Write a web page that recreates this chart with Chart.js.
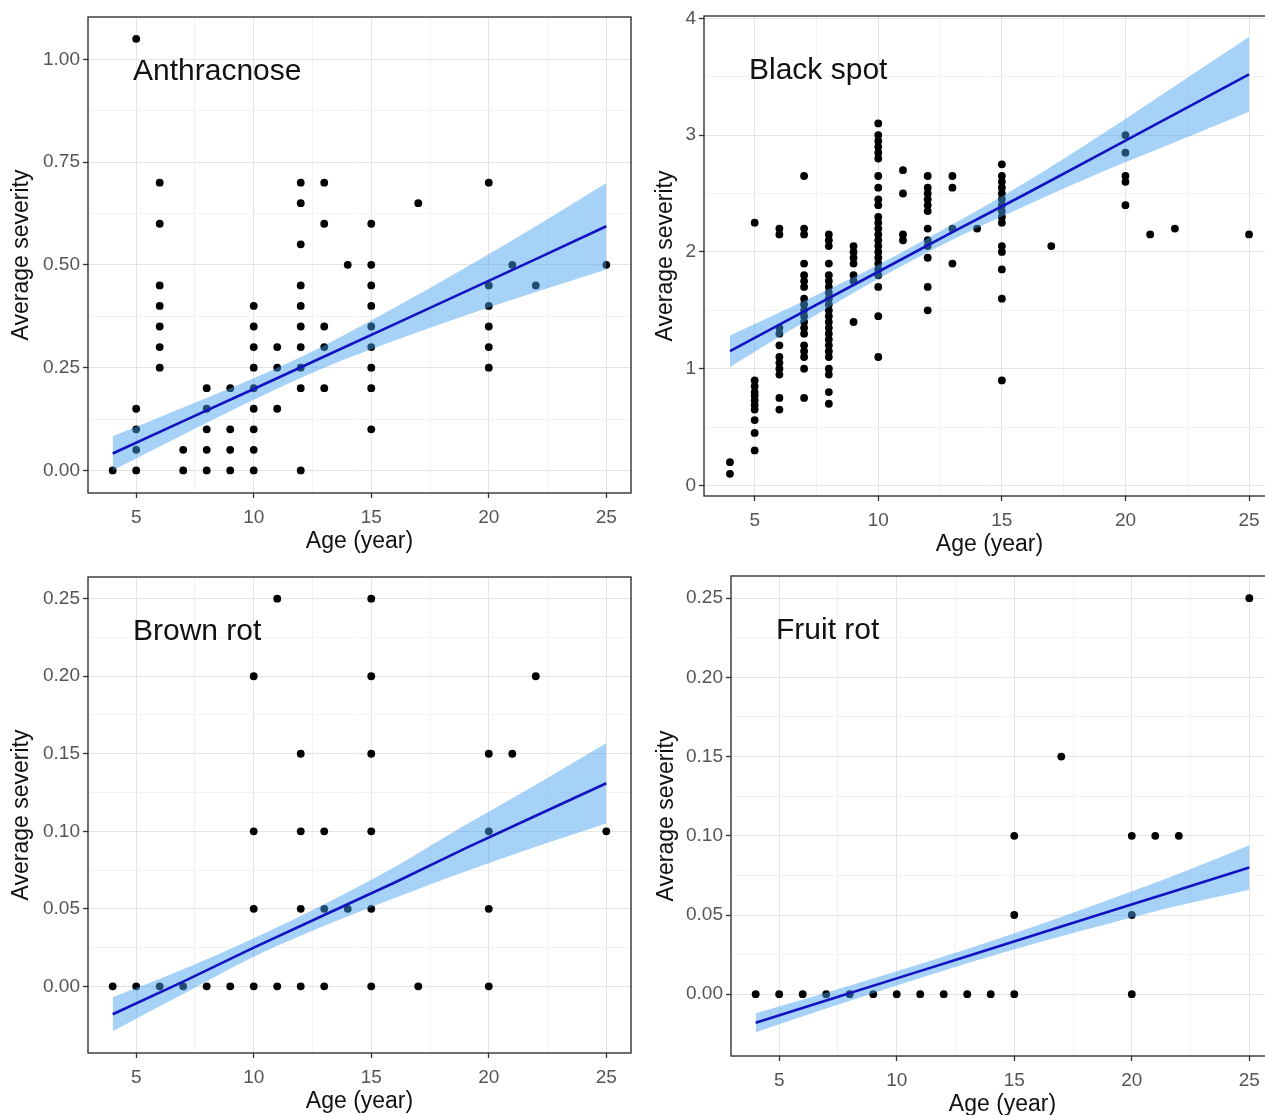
<!DOCTYPE html>
<html>
<head>
<meta charset="utf-8">
<script src="https://cdn.jsdelivr.net/npm/chart.js"></script>
<style>
  html, body { margin: 0; padding: 0; background: #fff; }
  body { width: 1265px; height: 1115px; overflow: hidden; position: relative; }
  canvas { position: absolute; }
</style>
</head>
<body>
<canvas id="anth" width="640" height="560" style="left:0;top:0"></canvas>
<canvas id="black" width="640" height="563" style="left:644px;top:0"></canvas>
<canvas id="brown" width="640" height="560" style="left:0;top:560px"></canvas>
<canvas id="fruit" width="638" height="563" style="left:645px;top:560px"></canvas>
<script>
// tree ages present in every panel
const ages = [4, 5, 6, 7, 8, 9, 10, 11, 12, 13, 14, 15, 17, 20, 21, 22, 25];

// observed severities, one list per age above
const anthValues = [
  [0], [1.05, 0.15, 0.1, 0.05, 0], [0.7, 0.6, 0.45, 0.4, 0.35, 0.3, 0.25], [0.05, 0],
  [0.2, 0.15, 0.1, 0.05, 0], [0.2, 0.1, 0.05, 0], [0.4, 0.35, 0.3, 0.25, 0.2, 0.15, 0.1, 0.05, 0],
  [0.3, 0.25, 0.15], [0.7, 0.65, 0.55, 0.45, 0.4, 0.35, 0.3, 0.25, 0.2, 0], [0.7, 0.6, 0.35, 0.3, 0.2],
  [0.5], [0.6, 0.5, 0.45, 0.4, 0.35, 0.3, 0.25, 0.2, 0.1], [0.65], [0.7, 0.45, 0.4, 0.35, 0.3, 0.25],
  [0.5], [0.45], [0.5]
];
const blackValues = [
  [0.2, 0.1],
  [2.25, 0.9, 0.85, 0.8, 0.77, 0.73, 0.69, 0.65, 0.56, 0.45, 0.3],
  [2.2, 2.15, 1.35, 1.3, 1.2, 1.1, 1.05, 1.0, 0.95, 0.75, 0.65],
  [2.65, 2.2, 2.15, 1.9, 1.8, 1.75, 1.7, 1.6, 1.55, 1.5, 1.45, 1.4, 1.35, 1.3, 1.2, 1.15, 1.1, 1.0, 0.75],
  [2.15, 2.1, 2.05, 1.9, 1.8, 1.75, 1.7, 1.65, 1.6, 1.55, 1.5, 1.45, 1.4, 1.35, 1.3, 1.25, 1.2, 1.15, 1.1, 1.0, 0.95, 0.8, 0.7],
  [2.05, 2.0, 1.95, 1.9, 1.8, 1.75, 1.4],
  [3.1, 3.0, 2.95, 2.9, 2.85, 2.8, 2.65, 2.55, 2.45, 2.4, 2.3, 2.25, 2.2, 2.15, 2.1, 2.05, 2.0, 1.95, 1.9, 1.85, 1.8, 1.7, 1.45, 1.1],
  [2.7, 2.5, 2.15, 2.1],
  [2.65, 2.55, 2.5, 2.45, 2.4, 2.35, 2.2, 2.1, 2.05, 1.95, 1.7, 1.5],
  [2.65, 2.55, 2.2, 1.9],
  [2.2],
  [2.75, 2.65, 2.6, 2.55, 2.5, 2.45, 2.4, 2.35, 2.3, 2.25, 2.05, 2.0, 1.85, 1.6, 0.9],
  [2.05],
  [3.0, 2.85, 2.65, 2.6, 2.4],
  [2.15], [2.2], [2.15]
];
const brownValues = [
  [0], [0], [0], [0], [0], [0], [0.2, 0.1, 0.05, 0], [0.25, 0], [0.15, 0.1, 0.05, 0], [0.1, 0.05, 0],
  [0.05], [0.25, 0.2, 0.15, 0.1, 0.05, 0], [0], [0.15, 0.1, 0.05, 0], [0.15], [0.2], [0.1]
];
const fruitValues = [
  [0], [0], [0], [0], [0], [0], [0], [0], [0], [0], [0], [0.1, 0.05, 0], [0.15], [0.1, 0.05, 0],
  [0.1], [0.1], [0.25]
];

// fitted line and confidence band, read at these ages
const fitAges = [4, 7, 10, 13, 16, 19, 22, 25];
const anthFit = [0.041, 0.12, 0.198, 0.277, 0.356, 0.435, 0.514, 0.594];
const anthHigh = [0.083, 0.153, 0.224, 0.304, 0.396, 0.493, 0.594, 0.699];
const anthLow = [0.0, 0.087, 0.172, 0.25, 0.316, 0.377, 0.434, 0.489];
const blackFit = [1.15, 1.49, 1.83, 2.17, 2.50, 2.84, 3.18, 3.52];
const blackHigh = [1.285, 1.58, 1.89, 2.235, 2.6, 3.0, 3.42, 3.84];
const blackLow = [1.015, 1.4, 1.77, 2.105, 2.4, 2.68, 2.94, 3.2];
const brownFit = [-0.018, 0.003, 0.025, 0.046, 0.067, 0.089, 0.110, 0.131];
const brownHigh = [-0.007, 0.011, 0.031, 0.053, 0.077, 0.104, 0.13, 0.157];
const brownLow = [-0.029, -0.005, 0.019, 0.039, 0.057, 0.074, 0.09, 0.105];
const fruitFit = [-0.018, -0.004, 0.010, 0.024, 0.038, 0.052, 0.066, 0.080];
const fruitHigh = [-0.012, 0.001, 0.0145, 0.0285, 0.0435, 0.0595, 0.076, 0.094];
const fruitLow = [-0.024, -0.009, 0.0055, 0.0195, 0.0325, 0.0445, 0.056, 0.066];

// ticks
const xMajor = [5, 10, 15, 20, 25];
const xMinor = [7.5, 12.5, 17.5, 22.5];
const xLabels = ['5', '10', '15', '20', '25'];
const anthYMajor = [0, 0.25, 0.5, 0.75, 1];
const anthYMinor = [0.125, 0.375, 0.625, 0.875];
const anthYLabels = ['0.00', '0.25', '0.50', '0.75', '1.00'];
const blackYMajor = [0, 1, 2, 3, 4];
const blackYMinor = [0.5, 1.5, 2.5, 3.5];
const blackYLabels = ['0', '1', '2', '3', '4'];
const smallYMajor = [0, 0.05, 0.1, 0.15, 0.2, 0.25];
const smallYMinor = [0.025, 0.075, 0.125, 0.175, 0.225];
const smallYLabels = ['0.00', '0.05', '0.10', '0.15', '0.20', '0.25'];

const FONT = '"Liberation Sans", Arial, sans-serif';

// panel border + disease name
const framePlugin = {
  id: 'frame',
  afterDatasetsDraw(chart, args, opts) {
    const { ctx, chartArea: a } = chart;
    ctx.save();
    ctx.strokeStyle = '#333333';
    ctx.lineWidth = 1.4;
    ctx.strokeRect(a.left, a.top, a.right - a.left, a.bottom - a.top);
    ctx.font = '30px ' + FONT;
    ctx.fillStyle = '#111';
    ctx.textBaseline = 'middle';
    ctx.fillText(opts.label, a.left + 45, a.top + 55);
    ctx.restore();
  }
};

function axisOpts(major, minor, labels, min, max, pad, extra) {
  const isMajor = v => major.some(m => Math.abs(m - v) < 1e-9);
  return Object.assign({
    type: 'linear',
    min: min,
    max: max,
    afterBuildTicks: axis => {
      axis.ticks = major.concat(minor).map(v => ({ value: v }));
    },
    ticks: {
      autoSkip: false,
      color: '#555555',
      padding: pad,
      font: { family: FONT, size: 19 },
      callback: v => {
        const i = major.findIndex(m => Math.abs(m - v) < 1e-9);
        return i >= 0 ? labels[i] : '';
      }
    },
    grid: {
      color: c => isMajor(c.tick.value) ? '#e4e4e4' : '#f3f3f3',
      lineWidth: 1,
      tickColor: c => isMajor(c.tick.value) ? '#333333' : 'rgba(0,0,0,0)',
      tickLength: 5,
      tickWidth: 1.3
    },
    border: { display: false }
  }, extra);
}

function makePanel(id, name, values, fit, low, high, yMajor, yMinor, yLabels, yMin, yMax, yWidth, padTop) {
  const pts = [];
  ages.forEach((a, i) => values[i].forEach(v => pts.push({ x: a, y: v })));
  const line = arr => fitAges.map((a, i) => ({ x: a, y: arr[i] }));

  new Chart(document.getElementById(id), {
    type: 'scatter',
    data: {
      datasets: [
        { data: pts, backgroundColor: '#000', borderWidth: 0, pointRadius: 3.9, order: 3 },
        { type: 'line', data: line(high), borderWidth: 0, pointRadius: 0, fill: '+1',
          backgroundColor: 'rgba(70,160,240,0.48)', cubicInterpolationMode: 'monotone', order: 2 },
        { type: 'line', data: line(low), borderWidth: 0, pointRadius: 0, fill: false,
          cubicInterpolationMode: 'monotone', order: 2 },
        { type: 'line', data: line(fit), borderColor: '#1212c0', borderWidth: 2.6, pointRadius: 0,
          fill: false, tension: 0, order: 1 }
      ]
    },
    options: {
      responsive: false,
      animation: false,
      events: [],
      layout: { padding: { top: padTop, right: 9, left: 0, bottom: 0 } },
      plugins: {
        legend: { display: false },
        tooltip: { enabled: false },
        frame: { label: name }
      },
      scales: {
        x: axisOpts(xMajor, xMinor, xLabels, 2.95, 26.05, 8, {
          position: 'bottom',
          afterFit: axis => { axis.height = 67; },
          title: { display: true, text: 'Age (year)', color: '#111',
                   font: { family: FONT, size: 23 }, padding: { top: 0, bottom: 5 } }
        }),
        y: axisOpts(yMajor, yMinor, yLabels, yMin, yMax, 3, {
          position: 'left',
          afterFit: axis => { axis.width = yWidth; },
          title: { display: true, text: 'Average severity', color: '#111',
                   font: { family: FONT, size: 23 }, padding: { top: 8, bottom: 0 } }
        })
      }
    },
    plugins: [framePlugin]
  });
}

makePanel('anth', 'Anthracnose', anthValues, anthFit, anthLow, anthHigh,
  anthYMajor, anthYMinor, anthYLabels, -0.055, 1.103, 88, 17);
makePanel('black', 'Black spot', blackValues, blackFit, blackLow, blackHigh,
  blackYMajor, blackYMinor, blackYLabels, -0.09, 4.02, 60, 16);
makePanel('brown', 'Brown rot', brownValues, brownFit, brownLow, brownHigh,
  smallYMajor, smallYMinor, smallYLabels, -0.043, 0.264, 88, 17);
makePanel('fruit', 'Fruit rot', fruitValues, fruitFit, fruitLow, fruitHigh,
  smallYMajor, smallYMinor, smallYLabels, -0.039, 0.264, 86, 16);
</script>
</body>
</html>
